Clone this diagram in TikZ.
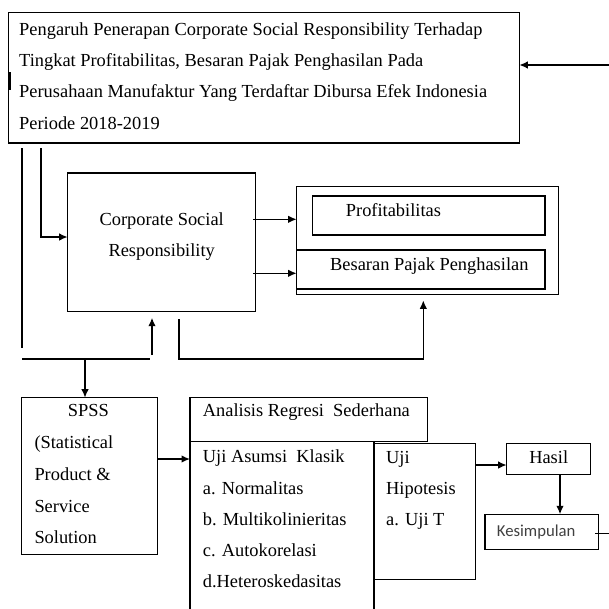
\documentclass[tikz,border=0pt]{standalone}
\usepackage{fontspec}
\setmainfont{Liberation Serif}
\newfontfamily\calib{Carlito}
\usetikzlibrary{arrows.meta}
\begin{document}
\begin{tikzpicture}[x=1pt,y=-1pt,
  box/.style={draw,line width=1.5pt,inner sep=0pt,outer sep=0pt,anchor=north west},
  txt/.style={inner sep=0pt,anchor=base west,font=\fontsize{18.4}{22}\selectfont},
  ctxt/.style={txt,anchor=base},
  ln/.style={line width=1.5pt},
  arr/.style={ln,-{Latex[length=8.5pt,width=7.5pt]}}]
\useasboundingbox (0,0) rectangle (609,608);
\clip (0,0) rectangle (609,608);
% boxes
\node[box,minimum width=511pt,minimum height=130.3pt] (title) at (8.3,12.7) {};
\node[box,minimum width=188pt,minimum height=138.7pt] (csr) at (67.7,173) {};
\node[box,minimum width=261.6pt,minimum height=107.6pt] (outer) at (296.7,186.7) {};
\node[box,minimum width=232.7pt,minimum height=39pt] (prof) at (312.3,196) {};
\node[box,minimum width=248.3pt,minimum height=39pt] (pajak) at (296.7,250) {};
\node[box,minimum width=136pt,minimum height=156.6pt] (spss) at (21.7,397.7) {};
\node[box,minimum width=237.7pt,minimum height=44pt] (anal) at (190,397.7) {};
\node[box,minimum width=184pt,minimum height=190pt] (asumsi) at (190,441.7) {};
\node[box,minimum width=101.7pt,minimum height=136pt] (hipo) at (374,443.3) {};
\node[box,minimum width=84pt,minimum height=31pt] (hasil) at (506.7,443.3) {};
\node[box,minimum width=113.3pt,minimum height=35pt] (kes) at (485,514.3) {};
% texts
\node[txt] (t1) at (19,35) {Pengaruh Penerapan Corporate Social Responsibility Terhadap};
\node[txt] (t2) at (19,66.3) {Tingkat Profitabilitas, Besaran Pajak Penghasilan Pada};
\node[txt] (t3) at (19,97.6) {Perusahaan Manufaktur Yang Terdaftar Dibursa Efek Indonesia};
\node[txt] (t4) at (19,129) {Periode 2018-2019};
\node[ctxt] (c1) at (161.7,225) {Corporate Social};
\node[ctxt] (c2) at (161.7,256) {Responsibility};
\node[txt] (pt) at (345.7,216) {Profitabilitas};
\node[txt] (bt) at (330,270) {Besaran Pajak Penghasilan};
\node[ctxt] (s1) at (88.3,416.7) {SPSS};
\node[txt] (s2) at (34.3,448) {(Statistical};
\node[txt] (s3) at (34.3,480) {Product \&};
\node[txt] (s4) at (34.3,512) {Service};
\node[txt] (s5) at (34.3,543) {Solution};
\node[txt] (at) at (202.7,416.7) {Analisis Regresi\ \ Sederhana};
\node[txt] (u1) at (202.7,462.7) {Uji Asumsi\ \ Klasik};
\node[txt] (u2) at (202.7,494) {a. Normalitas};
\node[txt] (u3) at (202.7,525) {b. Multikolinieritas};
\node[txt] (u4) at (202.7,556.7) {c. Autokorelasi};
\node[txt] (u5) at (202.7,587) {d.Heteroskedasitas};
\node[txt] (h1) at (386,463) {Uji};
\node[txt] (h2) at (386,494) {Hipotesis};
\node[txt] (h3) at (386,525) {a. Uji T};
\node[ctxt] (ht) at (548.7,463.3) {Hasil};
\node[inner sep=0pt,anchor=base west,font=\calib\fontsize{16.7}{20}\selectfont,text=black!75] (kt) at (496.7,536) {Kesimpulan};
% connectors
\coordinate (rin) at (609,65);
\draw[arr] (rin) -- (rin -| title.east);
\draw[line width=1.8pt] (10,72) -- (10,90);
\coordinate (a1) at (22,148);
\coordinate (a2) at (22,348);
\draw[ln] (a1) -- (a2);
\coordinate (b1) at (22,359);
\coordinate (b2) at (150,359);
\draw[ln] (b1) -- (b2);
\coordinate (b3) at (152,355);
\draw[arr] (b3) -- ([yshift=-6pt]b3 |- csr.south);
\coordinate (b4) at (85,359);
\draw[arr] (b4) -- (b4 |- spss.north);
\coordinate (c0) at (41,148);
\coordinate (c3) at (41,237);
\draw[arr] (c0) -- (c3) -- (c3 -| csr.west);
\coordinate (d0) at (179,319);
\coordinate (d1) at (179,359);
\coordinate (d2) at (423.3,359);
\draw[arr] (d0) -- (d1) -- (d2) -- ([yshift=-6pt]d2 |- outer.south);
\coordinate (e1) at (253,219.3);
\coordinate (e2) at (253,273.3);
\draw[arr] (e1) -- (e1 -| outer.west);
\draw[arr] (e2) -- (e2 -| outer.west);
\coordinate (f1) at (157.7,459);
\draw[arr] (f1) -- (f1 -| asumsi.west);
\coordinate (g1) at (475.7,465);
\draw[arr] (g1) -- (g1 -| hasil.west);
\coordinate (k1) at (560,474.3);
\draw[arr] (k1) -- (k1 |- kes.north);
\coordinate (m1) at (595,533.3);
\coordinate (m2) at (609,533.3);
\draw[ln] (m1) -- (m2);
\end{tikzpicture}
\end{document}
